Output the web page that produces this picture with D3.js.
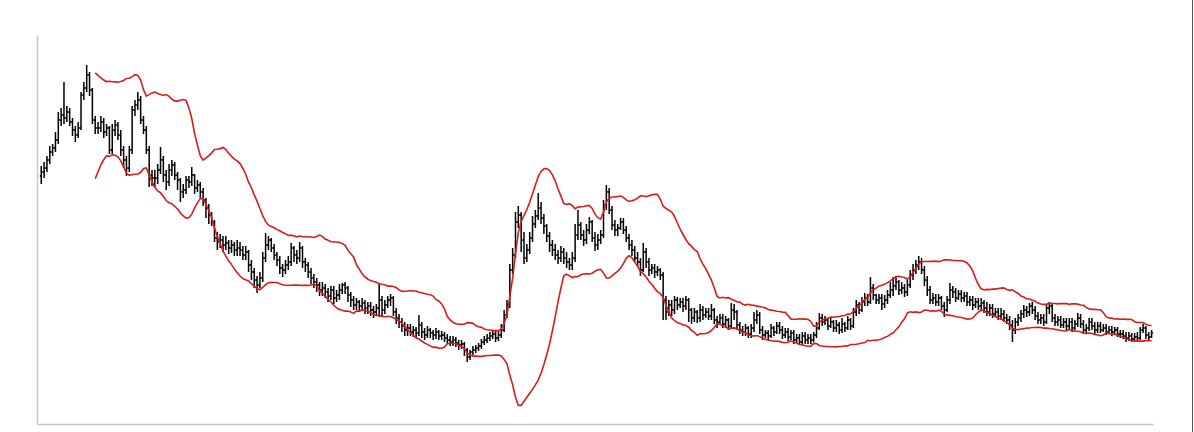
<!DOCTYPE html>
<html>
<head>
<meta charset="utf-8">
<script src="https://cdn.jsdelivr.net/npm/d3@7"></script>
<style>
  html, body { margin: 0; padding: 0; background: #fff; }
  svg { display: block; }
</style>
</head>
<body>
<svg id="chart" width="1194" height="432"></svg>
<script>
// ---- Data (arbitrary price units) ----
const openPrices = [
124,126,128,132,136,138,142,152,154.5,153,
156,151,147,144.5,148,164.5,168,174.5,167,152,
148,148,151,146,148,137,147,149.5,144.5,137,
132,128,137,157,159.5,162,152,147,137,124.5,
123,123,127,132,124.5,121,127,129.5,124.5,122,
116,117,122,121,124.5,118,119.5,116,112,108,
104.5,101,93,91,92,89.5,90.5,88,89.5,87,
88,87,84.5,86,79.5,76,72,69.5,73,83,
89.5,92,88,84.5,82,78,77,79.5,81,88,
84.5,83,88,81,79.5,76,73,71,69.5,67,
68,66,64,67,63,64.5,67,69.5,68,64.5,
62,59.5,61,59,60.5,58,59,57,56,58,
62,57,59.5,62,63,56,53,51,49,47,
48,46,47,45.5,49.5,46,44.5,47,45.5,44.5,
46,44,44.5,43,42,41,42,40.5,39.5,40,
37,33.5,36,37,38,39,41,42,43,44,
45,43,44.5,47,54.5,59.5,77,84.5,101,104.5,
92,83,87,93,100,104,108,103,99,94,
89.5,87,84.5,83,86,83,81,79.5,83,94.5,
99.5,94.5,92,97,101,93,89.5,92,94.5,109.5,
116,107,99.5,97,98,101,97,93,89.5,87,
83,81,77,86,81,77,78,76,77,74.5,
62,56,59.5,57,62,59.5,61,59,62,57,
53,56,53,57,54.5,56,54,57,52,51,
53,50,52,49,57,56,49.5,47,46,48,
45,48,52,54.5,47,44.5,45.5,44,48,46,
49,47,44.5,46,43.5,45.5,42,43,41,44,
42,43,42,44.5,48,53,51,52,49,51,
48,49.5,47,50,48,52,49,56,59.5,57,
61,63,61,68,64.5,62,63,60,62,64.5,
67,69,71,67,68,66,69.5,74.5,77,79.5,
81,77,72,67,62,63,61,63,59,57,
62,67,66,63,65,63,64,61,62,59.5,
61,59,60.5,58,56,58,55,56,54,55,
53,52,49.5,47,51,53,55,57,56,59,
57,54,52,53,51,58,59,53,51,52,
49.5,51,49,51,48,50,53,50,47,48,
51,49,47,49,47,48,46,47,46,47,
45,45,44,43,44,42.5,43.5,43,47,48,44.5,43.5
];
const highPrices = [
129,131,134,139,140,146,156,158,171,159,
158,153,149,151,166,171,179.5,176,168,154,
151,154,153,150,149,150,152,151,147,139,
134,139,159,162,166,164,154,149,139,127,
127,130,138.5,134,127,130,132,131,126,123,
120,124,124,128.5,125,122,121,118,113,110,
106,102,96,95,94,94,92,92,91,92,
91,89,89,87,82,78,74,76,86,95.5,
94,93,90,86,84,80,82,84,90.5,89,
87,91,89,83,81,78,75,73,71,71,
70,68,69,69,67,70,70.5,71,69,66,
64,63,62,63,62,61,61,59,60,70.5,
64,62,64,65,64,58,55,53,51,50,
50,49,48.5,54.5,51,48,49,48,47,48,
47,46.5,46,45,44,44,43.5,42,42,41,
38,37,39,39.5,40.5,42.5,44,45,46,47,
46.5,47,50,57,62,80,88,106,109,106,
96,90,96,104,107,115.5,111,105,100,96,
92,90,87,89,88,86,83,86,100,107,
101,97,100,103.5,102,96,95,97,112,119.5,
118,109,102,100,103,103,99,95,92,89,
86,83,90.5,88,83,80,80,79,78,76,
64,62,62,64,63.5,63,63,64,63,58,
58,57,60,59,58,58,60,58,54,55,
55,54,53,60.5,60,57,51,49,50,49,
50,56,57,56,49,47,47,50,49,51,
51,49,48,48,47,47,45,45,46,46,
45,45,46,51,55.5,55,54,53,53,52,
52,51,53,51,54,53,58,62,61,63.5,
65.5,65,73.5,70,65,65,65,64.5,67,71,
73.5,74,72,71,70,72,77,80,82,84,
83,79,74,69,65.5,65,65,64,61,64,
70.5,69,68,67,67,66,66,64,64,63,
63,63,62,61,60,60,58,58,58,57,
55,54,52,53,55,57,59.5,59,60.5,61,
59,56,55,55,60,61,60,55,54,54,
53,53,53,53,52,55.5,55,52,50,53,
53,51,51,51,50,50,49,49,48.5,48.5,
47,47,46,46,45.5,45.5,46,48.5,50,49,46,47
];
const lowPrices = [
120,123,126,130,134,136,140,149,150,151,
149,144,141,143,147,162,166,164,150,145,
145,146,143,144,135,135,144,142,134,128,
124,126,135,154,157,150,145,135,118.5,119,
118,120,125,121,117,119,124,122,117,111,
113,115,118,119,115,116,113,109,103,100,
99,91,87,88,86,87,85,85.5,84,84,
84,82,82,76,72,68,65.5,68,71,81,
87,86,82,79,75,73.5,75,77,79,81,
80,81,78,76,73,70,68,66,64,64,
63,61,62,60,61,62,65,65,61,58.5,
57,57,56,57,55,55,54,53,54,53.5,
53.5,55,58,59,54,50,48,46,44,44,
44,43.5,43,44,43,42,43,43,42,42.5,
42,42,41,40,39,39,38.5,37,37.5,34,
31,32,34.5,35.5,36.5,37.5,39.5,40.5,41.5,42.5,
41,41.5,43,46,53,58,75,83,98,86,
80,81,85,91,98,102,100,95,91,86,
84,82,80,81,80,78,77,77,81,92,
92,89,90,95,91,86.5,87,90,93,107,
105,97,94,94,97,95,91,87,84,81,
79,74,76,78,74,75,73,74,72,52,
52,54,54,55,57,58,56,57,51,50,
51,50.5,51,52,53,52,52,50,48,49.5,
48,48,47,48,52,47,45,44,44,43,
43,46,50,45,42,43,42,43,44,45,
45,42.5,43,41.5,42,40,40.5,39.5,40,40,
40,40,41,43,47,49,49.5,47,48,46,
46,45,45.5,46,47,47,48,54,55,56,
59,59,60,62,60,60,57,58,60,63,
64,67,64.5,65,63.5,64,68,72,75,77,
75,69,64,60,60,59,59,57,53.5,56,
60,63,61,62,61,61,59,59,57,58,
57,57,55.5,54,54,53,53.5,52,52,51,
50,47,41,45,49,51,53,53.5,54,55,
52,50,50,49,50,55,51,49,49,48,
48,47,47,46,47,48.5,48,45.5,45.5,46.5,
47,45,45.5,45.5,46,44.5,45,44,44.5,43.5,
43,42.5,41,41.5,41,41,41.5,42,45.5,42.5,42,43
];
const closePrices = [
126,128,132,136,138,142,152,154.5,153,156,
151,147,144.5,148,164.5,168,174.5,167,152,148,
148,151,146,148,137,147,149.5,144.5,137,132,
128,137,157,159.5,162,152,147,137,124.5,123,
123,127,132,124.5,121,127,129.5,124.5,122,116,
117,122,121,124.5,118,119.5,116,112,108,104.5,
101,93,91,92,89.5,90.5,88,89.5,87,88,
87,84.5,86,79.5,76,72,69.5,73,83,89.5,
92,88,84.5,82,78,77,79.5,81,88,84.5,
83,88,81,79.5,76,73,71,69.5,67,68,
66,64,67,63,64.5,67,69.5,68,64.5,62,
59.5,61,59,60.5,58,59,57,56,58,62,
57,59.5,62,63,56,53,51,49,47,48,
46,47,45.5,49.5,46,44.5,47,45.5,44.5,46,
44,44.5,43,42,41,42,40.5,39.5,40,37,
33.5,36,37,38,39,41,42,43,44,45,
43,44.5,47,54.5,59.5,77,84.5,101,104.5,92,
83,87,93,100,104,108,103,99,94,89.5,
87,84.5,83,86,83,81,79.5,83,94.5,99.5,
94.5,92,97,101,93,89.5,92,94.5,109.5,116,
107,99.5,97,98,101,97,93,89.5,87,83,
81,77,86,81,77,78,76,77,74.5,62,
56,59.5,57,62,59.5,61,59,62,57,53,
56,53,57,54.5,56,54,57,52,51,53,
50,52,49,57,56,49.5,47,46,48,45,
48,52,54.5,47,44.5,45.5,44,48,46,49,
47,44.5,46,43.5,45.5,42,43,41,44,42,
43,42,44.5,48,53,51,52,49,51,48,
49.5,47,50,48,52,49,56,59.5,57,61,
63,61,68,64.5,62,63,60,62,64.5,67,
69,71,67,68,66,69.5,74.5,77,79.5,81,
77,72,67,62,63,61,63,59,57,62,
67,66,63,65,63,64,61,62,59.5,61,
59,60.5,58,56,58,55,56,54,55,53,
52,49.5,47,51,53,55,57,56,59,57,
54,52,53,51,58,59,53,51,52,49.5,
51,49,51,48,50,53,50,47,48,51,
49,47,49,47,48,46,47,46,47,45,
45,44,43,44,42.5,43.5,43,47,48,44.5,43.5,45.5
];
const priceDomain = [0, 194.5];
const bollingerPeriod = 20;
const bollingerWidth = 2;

// ---- Build records ----
const bars = closePrices.map((c, i) => ({
  i, open: openPrices[i], high: highPrices[i], low: lowPrices[i], close: c
}));
const N = bars.length;

const bands = [];
for (let i = bollingerPeriod - 1; i < N; i++) {
  const win = closePrices.slice(i - bollingerPeriod + 1, i + 1);
  const m = d3.mean(win), sd = d3.deviation(win);
  bands.push({ i, upper: m + bollingerWidth * sd, lower: m - bollingerWidth * sd });
}

// ---- Scales ----
const svg = d3.select("#chart");
const x = d3.scaleLinear().domain([-1.5, N - 0.5]).range([37, 1153]);
const y = d3.scaleLinear().domain(priceDomain).range([424, 35]);

// ---- Axes (lines only) ----
svg.append("g").attr("transform", "translate(0,424)")
  .call(d3.axisBottom(x).ticks(0).tickSize(0).tickSizeOuter(0))
  .call(g => g.select(".domain").attr("stroke", "#c8c8c8").attr("stroke-width", 1.5));
svg.append("g").attr("transform", "translate(37,0)")
  .call(d3.axisLeft(y).ticks(0).tickSize(0).tickSizeOuter(0))
  .call(g => g.select(".domain").attr("stroke", "#c8c8c8").attr("stroke-width", 1.5));

// ---- OHLC bars ----
const tw = 1.5;
svg.append("g").selectAll("path").data(bars).join("path")
  .attr("d", d => {
    const xi = x(d.i);
    return `M${xi},${y(d.high)}V${y(d.low)}M${xi - tw},${y(d.open)}H${xi}M${xi},${y(d.close)}H${xi + tw}`;
  })
  .attr("fill", "none").attr("stroke", "#000").attr("stroke-width", 1.5);

// ---- Bollinger bands ----
const lineU = d3.line().x(d => x(d.i)).y(d => y(d.upper));
const lineL = d3.line().x(d => x(d.i)).y(d => y(d.lower));
svg.append("path").datum(bands).attr("d", lineU)
  .attr("fill", "none").attr("stroke", "#d81c1c").attr("stroke-width", 1.6);
svg.append("path").datum(bands).attr("d", lineL)
  .attr("fill", "none").attr("stroke", "#d81c1c").attr("stroke-width", 1.6);

// right edge rule
svg.append("line").attr("x1", 1192.5).attr("x2", 1192.5).attr("y1", 0).attr("y2", 432)
  .attr("stroke", "#555").attr("stroke-width", 1);
</script>
</body>
</html>
